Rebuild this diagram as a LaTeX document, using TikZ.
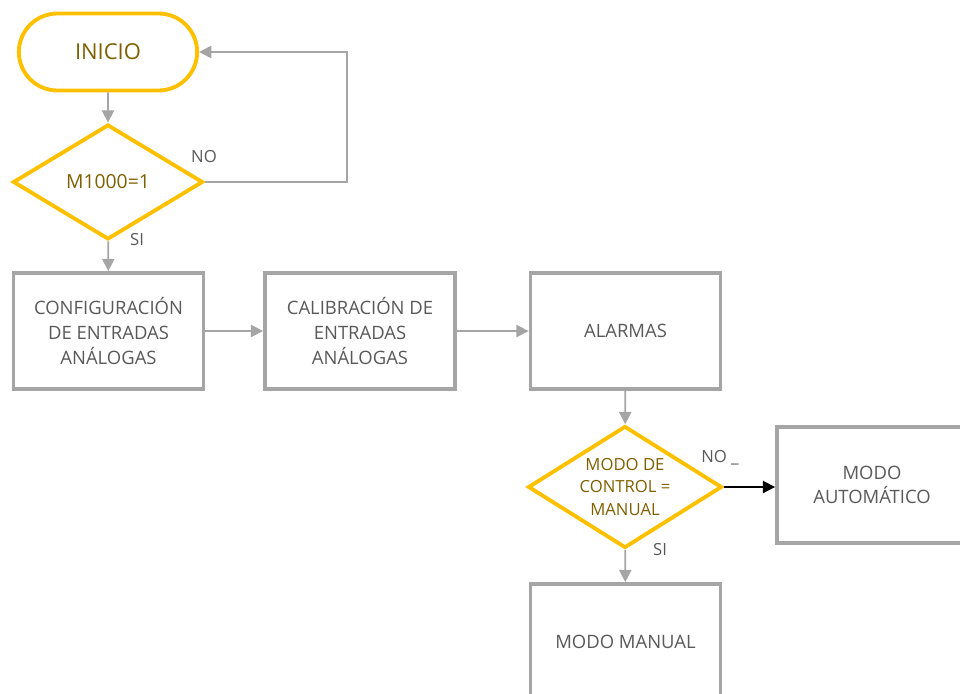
\documentclass[tikz,border=0pt]{standalone}
\usepackage{fontspec}
\setmainfont{Open Sans}
\usetikzlibrary{arrows.meta,positioning,shapes.geometric,shapes.misc}
\definecolor{oro}{HTML}{FFC000}
\definecolor{oroTexto}{HTML}{7F6000}
\definecolor{grisBorde}{HTML}{A5A5A5}
\definecolor{grisTexto}{HTML}{595959}

\begin{document}
\begin{tikzpicture}[
    x=0.02cm,
    y=-0.02cm,
    >={Triangle[length=7pt,width=7pt]},
    inicio/.style={
        rounded rectangle,
        draw=oro,
        line width=2.2pt,
        minimum width=3.8cm,
        minimum height=1.54cm,
        text=oroTexto,
        font=\fontsize{12.5}{15}\selectfont
    },
    decision/.style={
        diamond,
        draw=oro,
        line width=2.2pt,
        inner sep=0pt
    },
    textoDecision/.style={
        text=oroTexto,
        align=center
    },
    proceso/.style={
        rectangle,
        draw=grisBorde,
        line width=2.2pt,
        minimum width=3.8cm,
        minimum height=2.32cm,
        text=grisTexto,
        align=center,
        font=\fontsize{10.5}{14}\selectfont
    },
    flecha/.style={
        ->,
        draw=grisBorde,
        color=grisBorde,
        line width=1pt
    },
    etiqueta/.style={
        text=grisTexto,
        font=\fontsize{9.5}{11}\selectfont
    }
    ]
    \useasboundingbox (0,0) rectangle (960,693);
    \clip (0,0) rectangle (960,693);

    \node[inicio] (inicio) at (108,52) {INICIO};
    \node[decision,minimum width=3.8cm,minimum height=2.3cm,
        label={[textoDecision,font=\fontsize{11}{13}\selectfont]center:M1000=1}] (m1000) at (108,182) {};

    \node[proceso] (config) at (108.5,331) {CONFIGURACIÓN\\DE ENTRADAS\\ANÁLOGAS};
    \node[proceso] (calib)  at (360,331) {CALIBRACIÓN DE\\ENTRADAS\\ANÁLOGAS};
    \node[proceso] (alarmas) at (625.5,331) {ALARMAS};

    \node[decision,minimum width=3.88cm,minimum height=2.44cm,
        label={[textoDecision,font=\fontsize{9.5}{13}\selectfont]center:MODO DE\\CONTROL =\\MANUAL}] (modo) at (625,487) {};

    \node[proceso] (auto)   at (872,485) {MODO\\AUTOMÁTICO};
    \node[proceso] (manual) at (625.5,642) {MODO MANUAL};

    \coordinate (retorno) at (347,52);

    \node[etiqueta] (no1) at (204,157) {NO};
    \node[etiqueta] (si1) at (137,240) {SI};
    \node[etiqueta] (no2) at (720,458) {NO \_};
    \node[etiqueta] (si2) at (660,550) {SI};

    \draw[flecha] (inicio) -- (m1000);
    \draw[flecha] (m1000.east) -| (retorno) -- (inicio.east);
    \draw[flecha] (m1000) -- (config);
    \draw[flecha] (config) -- (calib);
    \draw[flecha] (calib) -- (alarmas);
    \draw[flecha] (alarmas) -- (modo);
    \draw[->,line width=1pt] (modo.east) -- (modo.east -| auto.west);
    \draw[flecha] (modo) -- (manual);
\end{tikzpicture}
\end{document}
